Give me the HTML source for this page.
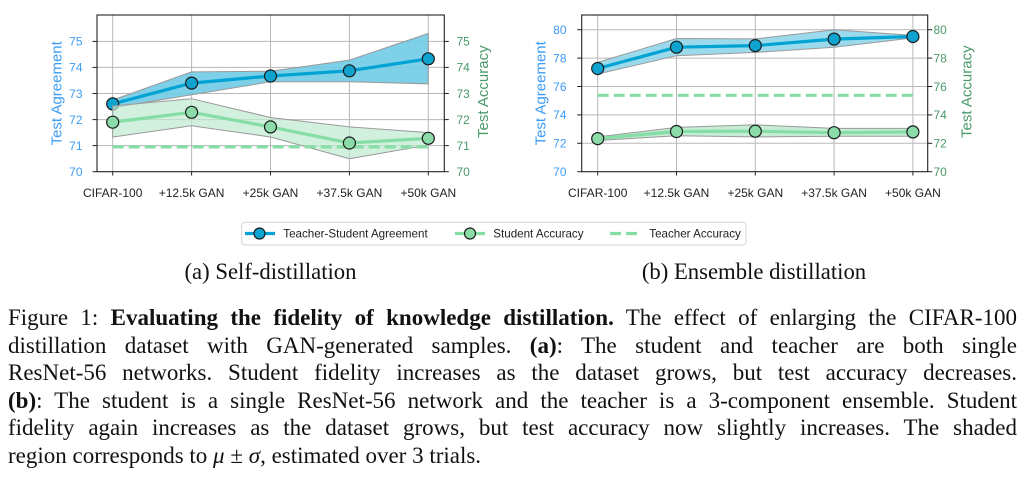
<!DOCTYPE html>
<html><head><meta charset="utf-8"><style>
html,body{margin:0;padding:0;background:#fff;}
body{width:1024px;height:477px;position:relative;overflow:hidden;}
svg{position:absolute;left:0;top:0;}
.cap{position:absolute;left:8px;width:1009px;height:27.5px;line-height:27.5px;font-family:"Liberation Serif",serif;font-size:23px;color:#111;text-align:justify;text-align-last:justify;white-space:nowrap;}
.cap.last{text-align-last:left;}
</style></head><body>
<svg width="1024" height="477" viewBox="0 0 1024 477" xmlns="http://www.w3.org/2000/svg" font-family="Liberation Sans, sans-serif">
<!-- ============ CHART 1 ============ -->
<g>
<rect x="97" y="15" width="347.3" height="156.7" fill="#fff"/>
<g stroke="#b8b8b8" stroke-width="1">
<line x1="112.7" y1="15" x2="112.7" y2="171.7"/><line x1="191.6" y1="15" x2="191.6" y2="171.7"/><line x1="270.5" y1="15" x2="270.5" y2="171.7"/><line x1="349.4" y1="15" x2="349.4" y2="171.7"/><line x1="428.3" y1="15" x2="428.3" y2="171.7"/>
<line x1="97" y1="145.6" x2="444.3" y2="145.6"/><line x1="97" y1="119.6" x2="444.3" y2="119.6"/><line x1="97" y1="93.5" x2="444.3" y2="93.5"/><line x1="97" y1="67.4" x2="444.3" y2="67.4"/><line x1="97" y1="41.4" x2="444.3" y2="41.4"/>
</g>
<polygon points="112.7,100.0 191.6,71.9 270.5,71.3 349.4,60.1 428.3,33.5 428.3,83.8 349.4,81.8 270.5,81.8 191.6,94.8 112.7,107.8" fill="#6fcbe6" fill-opacity="0.9" stroke="#9a9a9a" stroke-width="1"/>
<polyline points="112.7,103.9 191.6,83.1 270.5,76.0 349.4,70.8 428.3,58.8" fill="none" stroke="#00a3d3" stroke-width="3.2"/>
<g fill="#0ea3cf" stroke="#1c1c1c" stroke-width="1.2">
<circle cx="112.7" cy="103.9" r="6"/><circle cx="191.6" cy="83.1" r="6"/><circle cx="270.5" cy="76.0" r="6"/><circle cx="349.4" cy="70.8" r="6"/><circle cx="428.3" cy="58.8" r="6"/>
</g>
<polygon points="112.7,106.0 191.6,98.7 270.5,117.5 349.4,126.9 428.3,132.6 428.3,145.1 349.4,158.7 270.5,137.0 191.6,125.8 112.7,137.0" fill="#bfead0" fill-opacity="0.7" stroke="#9a9a9a" stroke-width="1"/>
<line x1="112.7" y1="146.9" x2="428.3" y2="146.9" stroke="#86dea6" stroke-width="3.2" stroke-dasharray="11,5"/>
<polyline points="112.7,122.2 191.6,112.3 270.5,126.9 349.4,143.0 428.3,138.3" fill="none" stroke="#86dea6" stroke-width="3.2"/>
<g fill="#8cdca9" stroke="#1c1c1c" stroke-width="1.2">
<circle cx="112.7" cy="122.2" r="6"/><circle cx="191.6" cy="112.3" r="6"/><circle cx="270.5" cy="126.9" r="6"/><circle cx="349.4" cy="143.0" r="6"/><circle cx="428.3" cy="138.3" r="6"/>
</g>
<rect x="97" y="15" width="347.3" height="156.7" fill="none" stroke="#222" stroke-width="1.1"/>
<g stroke="#222" stroke-width="1">
<line x1="92.5" y1="171.7" x2="97" y2="171.7"/><line x1="92.5" y1="145.6" x2="97" y2="145.6"/><line x1="92.5" y1="119.6" x2="97" y2="119.6"/><line x1="92.5" y1="93.5" x2="97" y2="93.5"/><line x1="92.5" y1="67.4" x2="97" y2="67.4"/><line x1="92.5" y1="41.4" x2="97" y2="41.4"/>
<line x1="444.3" y1="171.7" x2="448.8" y2="171.7"/><line x1="444.3" y1="145.6" x2="448.8" y2="145.6"/><line x1="444.3" y1="119.6" x2="448.8" y2="119.6"/><line x1="444.3" y1="93.5" x2="448.8" y2="93.5"/><line x1="444.3" y1="67.4" x2="448.8" y2="67.4"/><line x1="444.3" y1="41.4" x2="448.8" y2="41.4"/>
<line x1="112.7" y1="171.7" x2="112.7" y2="175.5"/><line x1="191.6" y1="171.7" x2="191.6" y2="175.5"/><line x1="270.5" y1="171.7" x2="270.5" y2="175.5"/><line x1="349.4" y1="171.7" x2="349.4" y2="175.5"/><line x1="428.3" y1="171.7" x2="428.3" y2="175.5"/>
</g>
<g font-size="12" fill="#3d9cf5" text-anchor="end">
<text x="82.5" y="176">70</text><text x="82.5" y="149.9">71</text><text x="82.5" y="123.9">72</text><text x="82.5" y="97.8">73</text><text x="82.5" y="71.7">74</text><text x="82.5" y="45.7">75</text>
</g>
<g font-size="12" fill="#4a9a6b" text-anchor="start">
<text x="456.5" y="176">70</text><text x="456.5" y="149.9">71</text><text x="456.5" y="123.9">72</text><text x="456.5" y="97.8">73</text><text x="456.5" y="71.7">74</text><text x="456.5" y="45.7">75</text>
</g>
<g font-size="12" fill="#222" text-anchor="middle">
<text x="112.7" y="197">CIFAR-100</text><text x="191.6" y="197">+12.5k GAN</text><text x="270.5" y="197">+25k GAN</text><text x="349.4" y="197">+37.5k GAN</text><text x="428.3" y="197">+50k GAN</text>
</g>
<text transform="translate(61.5,93.3) rotate(-90)" font-size="15" fill="#3d9cf5" text-anchor="middle">Test Agreement</text>
<text transform="translate(488,91.7) rotate(-90)" font-size="15" fill="#4a9a6b" text-anchor="middle">Test Accuracy</text>
</g>

<!-- ============ CHART 2 ============ -->
<g>
<rect x="581.7" y="15" width="346" height="156.7" fill="#fff"/>
<g stroke="#b8b8b8" stroke-width="1">
<line x1="597.7" y1="15" x2="597.7" y2="171.7"/><line x1="676.5" y1="15" x2="676.5" y2="171.7"/><line x1="755.3" y1="15" x2="755.3" y2="171.7"/><line x1="834.1" y1="15" x2="834.1" y2="171.7"/><line x1="912.9" y1="15" x2="912.9" y2="171.7"/>
<line x1="581.7" y1="143.3" x2="927.7" y2="143.3"/><line x1="581.7" y1="114.9" x2="927.7" y2="114.9"/><line x1="581.7" y1="86.5" x2="927.7" y2="86.5"/><line x1="581.7" y1="58.1" x2="927.7" y2="58.1"/><line x1="581.7" y1="29.7" x2="927.7" y2="29.7"/>
</g>
<polygon points="597.7,62.4 676.5,38.5 755.3,38.9 834.1,29.7 912.9,35.4 912.9,37.9 834.1,47.2 755.3,52.4 676.5,55.7 597.7,74.0" fill="#8fd6ea" fill-opacity="0.9" stroke="#9a9a9a" stroke-width="1"/>
<polyline points="597.7,68.5 676.5,47.2 755.3,45.6 834.1,39.1 912.9,36.5" fill="none" stroke="#00a3d3" stroke-width="3.2"/>
<g fill="#0ea3cf" stroke="#1c1c1c" stroke-width="1.2">
<circle cx="597.7" cy="68.5" r="6"/><circle cx="676.5" cy="47.2" r="6"/><circle cx="755.3" cy="45.6" r="6"/><circle cx="834.1" cy="39.1" r="6"/><circle cx="912.9" cy="36.5" r="6"/>
</g>
<polygon points="597.7,136.9 676.5,127.4 755.3,124.8 834.1,128.4 912.9,128.4 912.9,136.2 834.1,136.2 755.3,136.9 676.5,135.8 597.7,140.5" fill="#b5e8c8" fill-opacity="0.8" stroke="#9a9a9a" stroke-width="1"/>
<line x1="597.7" y1="95.3" x2="912.9" y2="95.3" stroke="#86dea6" stroke-width="3.2" stroke-dasharray="11,5"/>
<polyline points="597.7,138.6 676.5,131.5 755.3,131.2 834.1,132.7 912.9,131.9" fill="none" stroke="#86dea6" stroke-width="3.2"/>
<g fill="#8cdca9" stroke="#1c1c1c" stroke-width="1.2">
<circle cx="597.7" cy="138.6" r="6"/><circle cx="676.5" cy="131.5" r="6"/><circle cx="755.3" cy="131.2" r="6"/><circle cx="834.1" cy="132.7" r="6"/><circle cx="912.9" cy="131.9" r="6"/>
</g>
<rect x="581.7" y="15" width="346" height="156.7" fill="none" stroke="#222" stroke-width="1.1"/>
<g stroke="#222" stroke-width="1">
<line x1="577.2" y1="171.7" x2="581.7" y2="171.7"/><line x1="577.2" y1="143.3" x2="581.7" y2="143.3"/><line x1="577.2" y1="114.9" x2="581.7" y2="114.9"/><line x1="577.2" y1="86.5" x2="581.7" y2="86.5"/><line x1="577.2" y1="58.1" x2="581.7" y2="58.1"/><line x1="577.2" y1="29.7" x2="581.7" y2="29.7"/>
<line x1="927.7" y1="171.7" x2="932.2" y2="171.7"/><line x1="927.7" y1="143.3" x2="932.2" y2="143.3"/><line x1="927.7" y1="114.9" x2="932.2" y2="114.9"/><line x1="927.7" y1="86.5" x2="932.2" y2="86.5"/><line x1="927.7" y1="58.1" x2="932.2" y2="58.1"/><line x1="927.7" y1="29.7" x2="932.2" y2="29.7"/>
<line x1="597.7" y1="171.7" x2="597.7" y2="175.5"/><line x1="676.5" y1="171.7" x2="676.5" y2="175.5"/><line x1="755.3" y1="171.7" x2="755.3" y2="175.5"/><line x1="834.1" y1="171.7" x2="834.1" y2="175.5"/><line x1="912.9" y1="171.7" x2="912.9" y2="175.5"/>
</g>
<g font-size="12" fill="#3d9cf5" text-anchor="end">
<text x="566.5" y="176">70</text><text x="566.5" y="147.6">72</text><text x="566.5" y="119.2">74</text><text x="566.5" y="90.8">76</text><text x="566.5" y="62.4">78</text><text x="566.5" y="34">80</text>
</g>
<g font-size="12" fill="#4a9a6b" text-anchor="start">
<text x="933.5" y="176">70</text><text x="933.5" y="147.6">72</text><text x="933.5" y="119.2">74</text><text x="933.5" y="90.8">76</text><text x="933.5" y="62.4">78</text><text x="933.5" y="34">80</text>
</g>
<g font-size="12" fill="#222" text-anchor="middle">
<text x="597.7" y="197">CIFAR-100</text><text x="676.5" y="197">+12.5k GAN</text><text x="755.3" y="197">+25k GAN</text><text x="834.1" y="197">+37.5k GAN</text><text x="912.9" y="197">+50k GAN</text>
</g>
<text transform="translate(545.5,93.3) rotate(-90)" font-size="15" fill="#3d9cf5" text-anchor="middle">Test Agreement</text>
<text transform="translate(971.5,91.7) rotate(-90)" font-size="15" fill="#4a9a6b" text-anchor="middle">Test Accuracy</text>
</g>

<!-- ============ LEGEND ============ -->
<rect x="241.7" y="222.3" width="504.3" height="22.7" rx="3" fill="#fff" stroke="#d4d4d4" stroke-width="1"/>
<line x1="245" y1="233.5" x2="275" y2="233.5" stroke="#00a3d3" stroke-width="3.2"/>
<circle cx="259.5" cy="233.5" r="5.5" fill="#0ea3cf" stroke="#1c1c1c" stroke-width="1.2"/>
<text x="283.3" y="237.7" font-size="11.6" fill="#222">Teacher-Student Agreement</text>
<line x1="455" y1="233.5" x2="485" y2="233.5" stroke="#86dea6" stroke-width="3.2"/>
<circle cx="470" cy="233.5" r="5.5" fill="#8cdca9" stroke="#1c1c1c" stroke-width="1.2"/>
<text x="493.3" y="237.7" font-size="11.6" fill="#222">Student Accuracy</text>
<line x1="610" y1="233.5" x2="641" y2="233.5" stroke="#86dea6" stroke-width="3.2" stroke-dasharray="11,5"/>
<text x="649.3" y="237.7" font-size="11.6" fill="#222">Teacher Accuracy</text>

<g font-family="Liberation Serif, serif" font-size="22.7" fill="#111" text-anchor="middle">
<text x="270.5" y="279">(a) Self-distillation</text>
<text x="754" y="279">(b) Ensemble distillation</text>
</g>
</svg>

<div class="cap" style="top:304.2px">Figure 1: <b>Evaluating the fidelity of knowledge distillation.</b> The effect of enlarging the CIFAR-100</div>
<div class="cap" style="top:331.7px">distillation dataset with GAN-generated samples. <b>(a)</b>: The student and teacher are both single</div>
<div class="cap" style="top:359.2px">ResNet-56 networks. Student fidelity increases as the dataset grows, but test accuracy decreases.</div>
<div class="cap" style="top:386.7px"><b>(b)</b>: The student is a single ResNet-56 network and the teacher is a 3-component ensemble. Student</div>
<div class="cap" style="top:414.2px">fidelity again increases as the dataset grows, but test accuracy now slightly increases. The shaded</div>
<div class="cap last" style="top:441.7px">region corresponds to <i>μ</i> ± <i>σ</i>, estimated over 3 trials.</div>
</body></html>
